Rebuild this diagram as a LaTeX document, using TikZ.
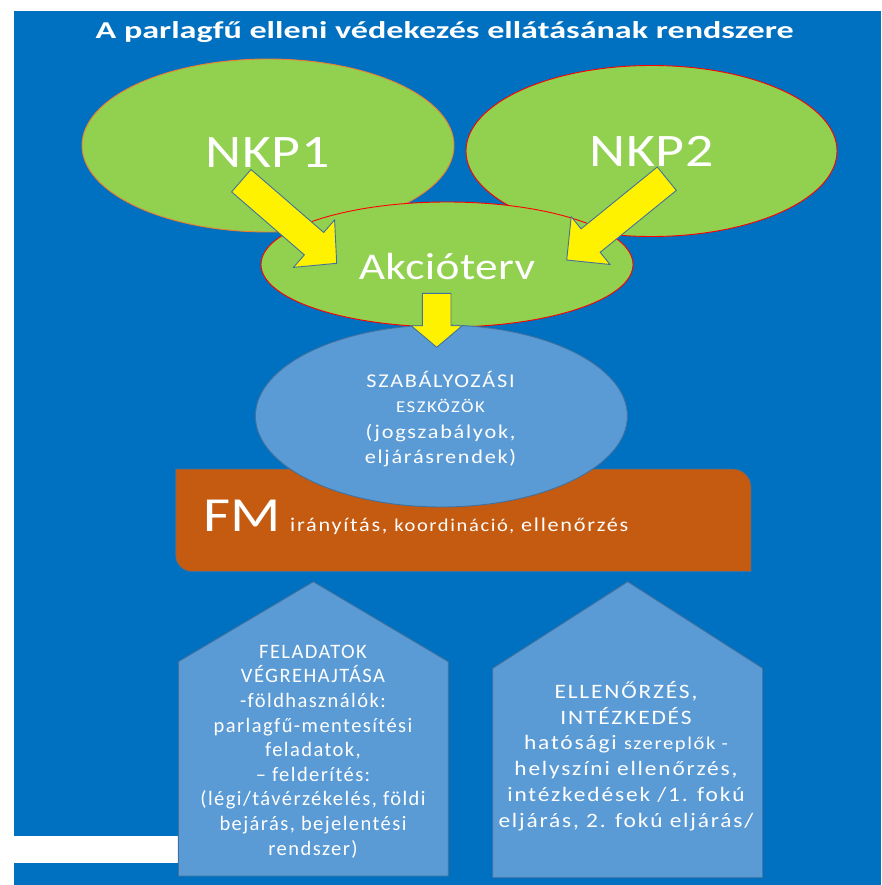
\documentclass[tikz,border=0pt]{standalone}
\usepackage{fontspec}
\setmainfont{Carlito}
\usetikzlibrary{shapes.geometric,calc}

\definecolor{bgblue}{HTML}{0070C0}
\definecolor{leafgreen}{HTML}{92D050}
\definecolor{skyblue}{HTML}{5B9BD5}
\definecolor{rustbrown}{HTML}{C55A11}
\definecolor{edgeblue}{HTML}{41719C}
\definecolor{nkporange}{HTML}{ED7D31}

% yellow block arrow: tail, tip, half shaft, half head, head length
\newcommand{\blockarrow}[5]{%
  \coordinate (hb) at ($(#2)!#5!(#1)$);
  \filldraw[yellowarrow] ($(#1)!#3!90:(#2)$) -- ($(hb)!#3!-90:(#1)$) -- ($(hb)!#4!-90:(#1)$) -- (#2)
    -- ($(hb)!#4!90:(#1)$) -- ($(hb)!#3!90:(#1)$) -- ($(#1)!#3!-90:(#2)$) -- cycle;
}

\tikzset{
  greenell/.style={ellipse, fill=leafgreen, draw=#1, line width=0.9pt, inner sep=0pt},
  yellowarrow/.style={fill=yellow, draw=edgeblue, line width=0.9pt, line join=miter},
  housebox/.style={fill=skyblue, draw=edgeblue, line width=0.9pt},
  headline/.style={text=white, font=\bfseries\fontsize{24.2}{28}\selectfont\addfontfeature{FakeStretch=1.41}},
  bigword/.style={text=white, inner sep=0pt, font=\fontsize{#1}{#1}\selectfont\addfontfeature{FakeStretch=1.2,LetterSpace=1}},
  bodytext/.style={text=white, align=center, inner sep=0pt,
    font=\fontsize{20.5}{#1}\selectfont\addfontfeature{LetterSpace=7}},
  widetext/.style 2 args={text=white, align=center, inner sep=0pt,
    font=\fontsize{#1}{#2}\selectfont\addfontfeature{FakeStretch=1.14,LetterSpace=9}}
}

\begin{document}
\begin{tikzpicture}[x=1pt, y=-1pt]
    \useasboundingbox (0,0) rectangle (881,885);
    \fill[bgblue] (14,11) rectangle (881,885);

    \node[headline, anchor=base] (title) at (444.7,38.3) {A parlagfű elleni védekezés ellátásának rendszere};

    % the two programmes and the action plan
    \node[greenell=nkporange, minimum width=372pt, minimum height=173pt] (nkp1) at (268,145.5) {};
    \node[greenell=red, minimum width=371pt, minimum height=171pt] (nkp2) at (651.5,151) {};
    \node[greenell=red, minimum width=372pt, minimum height=125pt] (akcio) at (447,264.5) {};
    \node[bigword=46.6, anchor=base] (nkp1txt) at (267.5,168) {NKP1};
    \node[bigword=46.6, anchor=base] (nkp2txt) at (651.7,167) {NKP2};
    \node[bigword=37.8, anchor=base] (akciotxt) at (447,279.3) {Akcióterv};

    \coordinate (a1s) at (241.3,180.7);
    \coordinate (a1e) at (336.7,263.3);
    \coordinate (a2s) at (666.8,178.7);
    \coordinate (a2e) at (566.7,260);
    \blockarrow{a1s}{a1e}{14.8pt}{31.4pt}{30pt}
    \blockarrow{a2s}{a2e}{15.1pt}{30.8pt}{30.8pt}

    % FM bar, round corners top right and bottom left
    \filldraw[fill=rustbrown, draw=edgeblue, line width=0.6pt] (175.7,469) -- (733,469)
        .. controls (742.9,469) and (751,477.1) .. (751,487) -- (751,571.5) -- (191.7,571.5)
        .. controls (182.9,571.5) and (175.7,564.3) .. (175.7,555.5) -- cycle;
    \node[bigword=49, anchor=base west] (fm) at (203,531.7) {FM};
    \node[widetext={19.5}{20}, anchor=base west] (fmtasks) at (290,531.7) {irányítás, {\fontsize{18}{20}\selectfont koordináció,} ellenőrzés};

    \node[ellipse, fill=skyblue, draw=edgeblue, line width=0.9pt, minimum width=372pt, minimum height=182pt, inner sep=0pt] (szab) at (441.4,416) {};
    \node[widetext={19.5}{25.6}] (szabtxt) at (440.5,419) {SZABÁLYOZÁSI\\{\fontsize{16.5}{25.6}\selectfont ESZKÖZÖK}\\(jogszabályok,\\eljárásrendek)};

    \coordinate (a3s) at (436.7,293.3);
    \coordinate (a3e) at (436.7,347.3);
    \blockarrow{a3s}{a3e}{14.3pt}{25.5pt}{21.6pt}

    \fill[white] (14,836) rectangle (178.3,863);

    % the two houses
    \filldraw[housebox] (178.3,876) -- (178.3,661.7) -- (313.3,581.7) -- (448.3,661.7) -- (448.3,876) -- cycle;
    \filldraw[housebox] (492.7,877.7) -- (492.7,668.3) -- (627.7,581.7) -- (762.7,668.3) -- (762.7,877.7) -- cycle;

    \node[bodytext=24.6] (tasks) at (313,751.5) {FELADATOK\\VÉGREHAJTÁSA\\-földhasználók:\\parlagfű-mentesítési\\feladatok,\\– felderítés:\\(légi/távérzékelés, földi\\bejárás, bejelentési\\rendszer)};
    \node[widetext={20.5}{25.8}] (control) at (626,756) {ELLENŐRZÉS,\\INTÉZKEDÉS\\hatósági {\fontsize{18}{25.8}\selectfont szereplők -}\\helyszíni ellenőrzés,\\intézkedések /1. fokú\\eljárás, 2. fokú eljárás/};
\end{tikzpicture}
\end{document}
